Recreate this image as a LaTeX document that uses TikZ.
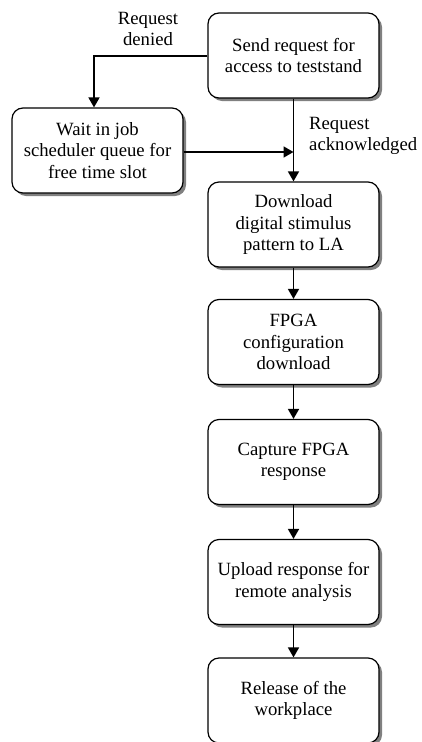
\documentclass[tikz,border=0pt]{standalone}
\usepackage{fontspec}
\setmainfont{Liberation Serif}
\usetikzlibrary{arrows.meta,shadows}
\begin{document}
\begin{tikzpicture}[x=1pt,y=-1pt,
  font=\fontsize{18.7}{21.5}\selectfont,
  stepbox/.style={draw=black,line width=1.2pt,fill=white,rounded corners=11pt,
    minimum width=171pt,minimum height=85pt,align=center,inner sep=2pt,
    drop shadow={shadow xshift=3pt,shadow yshift=-3pt,fill=black!50,opacity=1}},
  arr/.style={line width=1.7pt,-{Triangle[length=10pt,width=11pt]}},
  lbl/.style={align=center,inner sep=0pt}]
\useasboundingbox (0,0) rectangle (421,742);
\node[stepbox] (send) at (293.5,55.5) {Send request for\\access to teststand};
\node[stepbox] (wait) at (97.5,150.5) {Wait in job\\scheduler queue for\\free time slot};
\node[stepbox] (down) at (293.5,224.5) {Download\\digital stimulus\\pattern to LA};
\node[stepbox] (fpga) at (293.5,342) {FPGA\\configuration\\download};
\node[stepbox] (capt) at (293.5,462) {Capture FPGA\\response};
\node[stepbox] (upl) at (293.5,582) {Upload response for\\remote analysis};
\node[stepbox] (rel) at (293.5,700.5) {Release of the\\workplace};
\coordinate (dcorner) at (94,56);
\coordinate (join) at (293.5,152);
\draw[arr] (send.west |- dcorner) -- (dcorner) -- (dcorner |- wait.north);
\draw[arr] (send.south) -- (down.north);
\draw[arr] (wait.east |- join) -- (join);
\draw[arr] (down.south) -- (fpga.north);
\draw[arr] (fpga.south) -- (capt.north);
\draw[arr] (capt.south) -- (upl.north);
\draw[arr] (upl.south) -- (rel.north);
\node[lbl] (ldenied) at (148,29) {Request\\denied};
\node[lbl,align=left,anchor=west] (lack) at (309,136) {Request\\acknowledged};
\end{tikzpicture}
\end{document}
